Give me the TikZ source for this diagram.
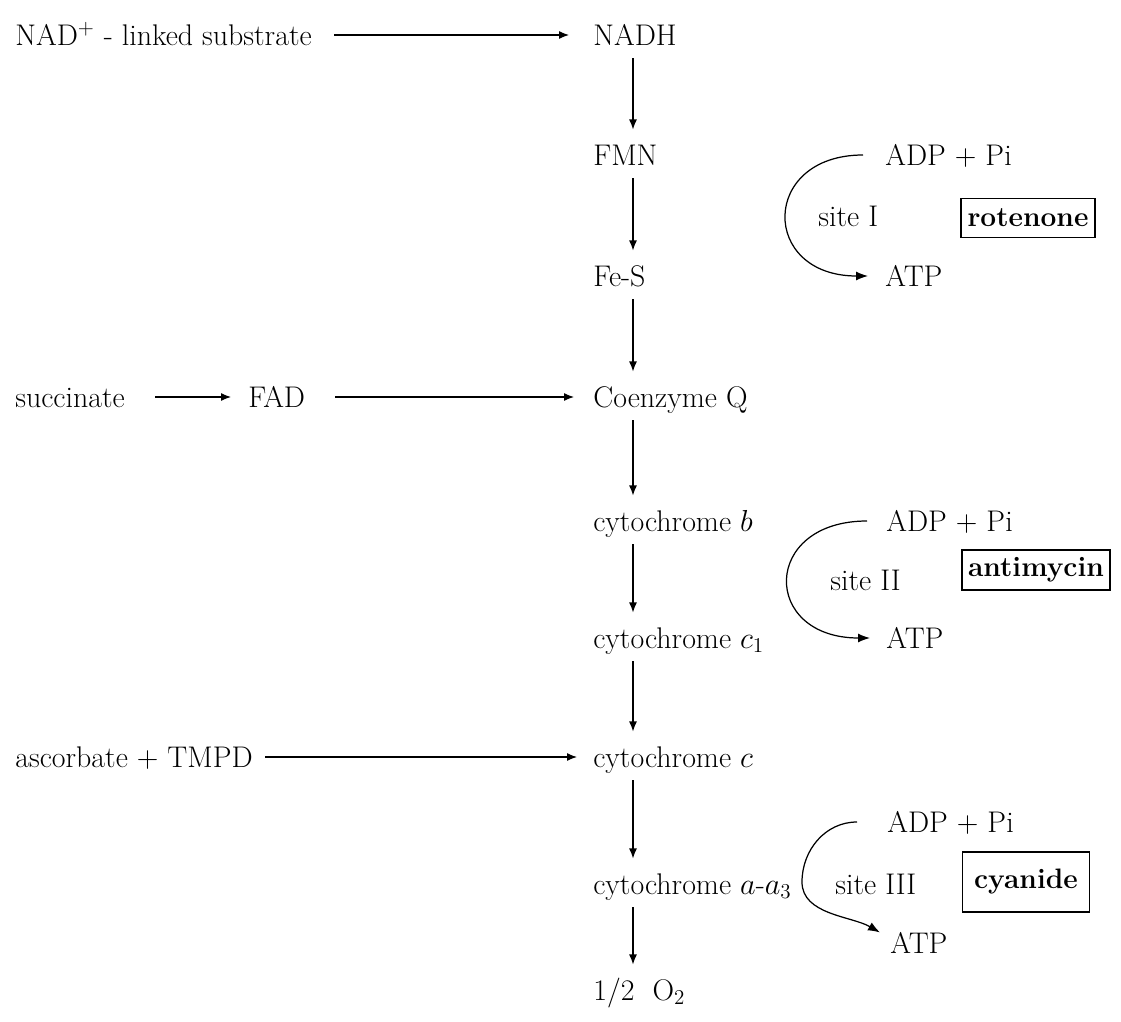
\documentclass[tikz,border=0pt]{standalone}
\usepackage{tikz}
\usetikzlibrary{arrows.meta, positioning}

\begin{document}
\begin{tikzpicture}[
  font=\fontsize{17}{20}\selectfont,
  lbl/.style={anchor=west, inner sep=0pt, text height=11.6pt, text depth=0pt},
  inhib/.style={rectangle, draw, line width=0.7pt, inner sep=0.1cm, font=\fontsize{16}{19}\selectfont\bfseries},
  arrow/.style={-{Latex[length=2mm, width=1.6mm]}, line width=0.7pt},
  down/.style={arrow, shorten <=0.25cm, shorten >=0.3cm},
  site/.style={-{Latex[length=2.4mm, width=1.8mm]}, line width=0.7pt}
]
  \useasboundingbox (0,0) rectangle (22.42,-20.44);
  \coordinate (col) at (12.66,0);

  \node[lbl] (nadh)  at (11.86,-0.70)  {NADH};
  \node[lbl] (fmn)   at (11.86,-3.10)  {FMN};
  \node[lbl] (fes)   at (11.86,-5.52)  {Fe-S};
  \node[lbl] (coq)   at (11.86,-7.94)  {Coenzyme Q};
  \node[lbl] (cytb)  at (11.86,-10.42) {cytochrome $b$};
  \node[lbl] (cytc1) at (11.86,-12.76) {cytochrome $c_1$};
  \node[lbl] (cytc)  at (11.86,-15.14) {cytochrome $c$};
  \node[lbl] (cytaa) at (11.86,-17.68) {cytochrome $a$-$a_3$};
  \node[lbl] (otwo)  at (11.86,-19.80) {1/2\ \ O$_2$};

  \node[lbl] (nad)  at (0.30,-0.70)  {NAD$^{+}$\ - linked substrate};
  \node[lbl] (succ) at (0.30,-7.94)  {succinate};
  \node[lbl] (fad)  at (4.96,-7.94)  {FAD};
  \node[lbl] (asc)  at (0.30,-15.14) {ascorbate + TMPD};

  \draw[arrow, shorten <=0.44cm, shorten >=0.48cm] (nad) -- (nadh);
  \draw[arrow, shorten <=0.6cm, shorten >=0.34cm] (succ) -- (fad);
  \draw[arrow, shorten <=0.6cm, shorten >=0.38cm] (fad) -- (coq);
  \draw[arrow, shorten <=0.24cm, shorten >=0.32cm] (asc) -- (cytc);

  \draw[down] (nadh.south -| col) -- (fmn.north -| col);
  \draw[down] (fmn.south -| col) -- (fes.north -| col);
  \draw[down] (fes.south -| col) -- (coq.north -| col);
  \draw[down] (coq.south -| col) -- (cytb.north -| col);
  \draw[down] (cytb.south -| col) -- (cytc1.north -| col);
  \draw[down] (cytc1.south -| col) -- (cytc.north -| col);
  \draw[down] (cytc.south -| col) -- (cytaa.north -| col);
  \draw[down] (cytaa.south -| col) -- (otwo.north -| col);

  \node[lbl] (adpA)  at (17.70,-3.10) {ADP + Pi};
  \node[lbl] (atpA)  at (17.70,-5.52) {ATP};
  \node[lbl] (siteA) at (16.36,-4.32) {site I};
  \node[inhib, minimum width=2.68cm, minimum height=0.78cm] (rot) at (20.56,-4.36) {rotenone};
  \draw[site] ([xshift=-0.44cm]adpA.west) .. controls +(-2.06,0) and +(-2.16,0) .. ([xshift=-0.34cm]atpA.west);

  \node[lbl] (adpB)  at (17.72,-10.42) {ADP + Pi};
  \node[lbl] (atpB)  at (17.72,-12.76) {ATP};
  \node[lbl] (siteB) at (16.60,-11.60) {site II};
  \node[inhib, minimum width=2.96cm, minimum height=0.8cm] (anti) at (20.72,-11.40) {antimycin};
  \draw[site] ([xshift=-0.38cm]adpB.west) .. controls +(-2.12,0) and +(-2.18,0) .. ([xshift=-0.32cm]atpB.west);

  \node[lbl] (adpC)  at (17.74,-16.44) {ADP + Pi};
  \node[lbl] (atpC)  at (17.80,-18.86) {ATP};
  \node[lbl] (siteC) at (16.70,-17.68) {site III};
  \node[inhib, minimum width=2.54cm, minimum height=1.2cm] (cyan) at (20.52,-17.64) {cyanide};
  \draw[site] ([xshift=-0.6cm]adpC.west) to[out=180, in=90] ++(-1.1,-1.2) to[out=-90, in=150, looseness=0.9] ([xshift=-0.2cm]atpC.north west);
\end{tikzpicture}
\end{document}
